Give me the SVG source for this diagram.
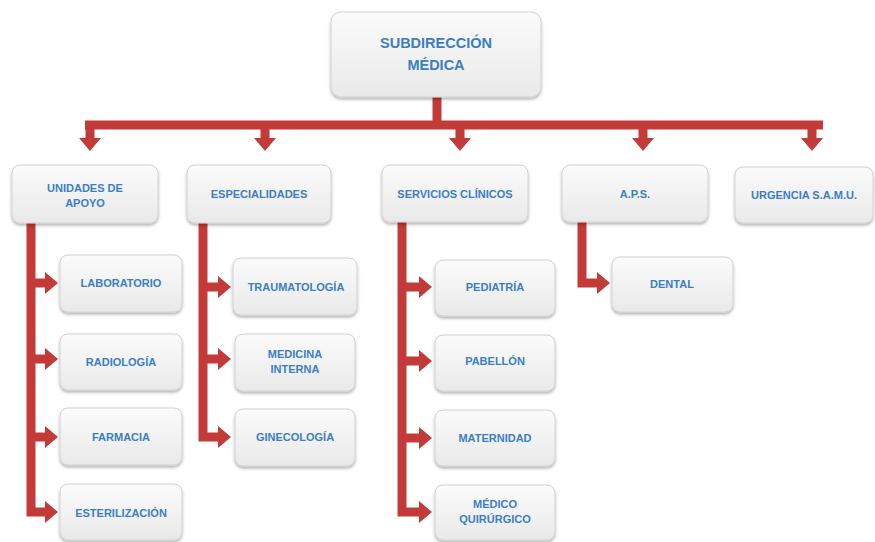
<svg xmlns="http://www.w3.org/2000/svg" width="875" height="542" viewBox="0 0 875 542">
  <defs>
    <linearGradient id="boxg" x1="0" y1="0" x2="0" y2="1">
      <stop offset="0" stop-color="#fbfbfb"/>
      <stop offset="1" stop-color="#e9e9e9"/>
    </linearGradient>
    <filter id="sh" x="-10%" y="-10%" width="120%" height="130%">
      <feDropShadow dx="0" dy="2" stdDeviation="1.5" flood-color="#000" flood-opacity="0.3"/>
    </filter>
    <marker id="ah" markerUnits="userSpaceOnUse" markerWidth="13" markerHeight="22" viewBox="0 0 13 22" refX="0" refY="11" orient="auto">
      <path d="M0,0 L13,11 L0,22 Z" fill="#c33b38"/>
    </marker>
  </defs>
  <style>
    .box { fill: url(#boxg); stroke: #d2d2d2; stroke-width: 1; filter: url(#sh); }
    .t { font-family: "Liberation Sans", Arial, sans-serif; font-weight: bold; fill: #3a7fc2; font-size: 11px; text-anchor: middle; }
    .tt { font-size: 14.5px; }
    .c { fill: none; stroke: #c33b38; stroke-width: 9; stroke-linejoin: miter; stroke-linecap: butt; }
    .a { marker-end: url(#ah); }
  </style>
  <rect width="875" height="542" fill="#ffffff"/>

  <g id="connectors">
    <path class="c" d="M437,97 V125"/>
    <path class="c" d="M85,125 H823"/>
    <path class="c a" d="M90,125 V138"/>
    <path class="c a" d="M265,125 V138"/>
    <path class="c a" d="M460,125 V138"/>
    <path class="c a" d="M643,125 V138"/>
    <path class="c a" d="M812,125 V138"/>

    <path class="c a" d="M31,223 V512 H45"/>
    <path class="c a" d="M31,283 H45"/>
    <path class="c a" d="M31,359 H45"/>
    <path class="c a" d="M31,437 H45"/>

    <path class="c a" d="M203,223 V437 H218"/>
    <path class="c a" d="M203,287 H218"/>
    <path class="c a" d="M203,359 H218"/>

    <path class="c a" d="M402,222 V512 H419"/>
    <path class="c a" d="M402,287 H419"/>
    <path class="c a" d="M402,361 H419"/>
    <path class="c a" d="M402,438 H419"/>

    <path class="c a" d="M582,222 V283 H597"/>
  </g>

  <g id="n-subdireccion">
    <rect class="box" x="331" y="12" width="210" height="85" rx="10"/>
    <text class="t tt" x="436" y="48">SUBDIRECCIÓN</text>
    <text class="t tt" x="436" y="70">MÉDICA</text>
  </g>

  <g id="n-unidades">
    <rect class="box" x="12" y="165" width="146" height="58" rx="8"/>
    <text class="t" x="85" y="192">UNIDADES DE</text>
    <text class="t" x="85" y="207">APOYO</text>
  </g>
  <g id="n-especialidades">
    <rect class="box" x="187" y="165" width="144" height="58" rx="8"/>
    <text class="t" x="259" y="198">ESPECIALIDADES</text>
  </g>
  <g id="n-servicios">
    <rect class="box" x="382" y="165" width="146" height="57" rx="8"/>
    <text class="t" x="455" y="198">SERVICIOS CLÍNICOS</text>
  </g>
  <g id="n-aps">
    <rect class="box" x="562" y="165" width="146" height="57" rx="8"/>
    <text class="t" x="635" y="198">A.P.S.</text>
  </g>
  <g id="n-urgencia">
    <rect class="box" x="735" y="167" width="138" height="56" rx="8"/>
    <text class="t" x="804" y="199">URGENCIA S.A.M.U.</text>
  </g>

  <g id="n-laboratorio">
    <rect class="box" x="60" y="255" width="122" height="57" rx="8"/>
    <text class="t" x="121" y="287">LABORATORIO</text>
  </g>
  <g id="n-radiologia">
    <rect class="box" x="60" y="334" width="122" height="56" rx="8"/>
    <text class="t" x="121" y="366">RADIOLOGÍA</text>
  </g>
  <g id="n-farmacia">
    <rect class="box" x="60" y="408" width="122" height="57" rx="8"/>
    <text class="t" x="121" y="441">FARMACIA</text>
  </g>
  <g id="n-esterilizacion">
    <rect class="box" x="60" y="484" width="122" height="56" rx="8"/>
    <text class="t" x="121" y="517">ESTERILIZACIÓN</text>
  </g>

  <g id="n-traumatologia">
    <rect class="box" x="233" y="258" width="124" height="57" rx="8"/>
    <text class="t" x="296" y="291">TRAUMATOLOGÍA</text>
  </g>
  <g id="n-medicina">
    <rect class="box" x="235" y="334" width="120" height="57" rx="8"/>
    <text class="t" x="295" y="358">MEDICINA</text>
    <text class="t" x="295" y="373">INTERNA</text>
  </g>
  <g id="n-ginecologia">
    <rect class="box" x="235" y="409" width="120" height="57" rx="8"/>
    <text class="t" x="295" y="441">GINECOLOGÍA</text>
  </g>

  <g id="n-pediatria">
    <rect class="box" x="435" y="260" width="120" height="56" rx="8"/>
    <text class="t" x="495" y="291">PEDIATRÍA</text>
  </g>
  <g id="n-pabellon">
    <rect class="box" x="435" y="335" width="120" height="56" rx="8"/>
    <text class="t" x="495" y="365">PABELLÓN</text>
  </g>
  <g id="n-maternidad">
    <rect class="box" x="435" y="410" width="120" height="56" rx="8"/>
    <text class="t" x="495" y="442">MATERNIDAD</text>
  </g>
  <g id="n-medico">
    <rect class="box" x="435" y="485" width="120" height="55" rx="8"/>
    <text class="t" x="495" y="508">MÉDICO</text>
    <text class="t" x="495" y="523">QUIRÚRGICO</text>
  </g>

  <g id="n-dental">
    <rect class="box" x="612" y="257" width="121" height="55" rx="8"/>
    <text class="t" x="672" y="288">DENTAL</text>
  </g>
</svg>
